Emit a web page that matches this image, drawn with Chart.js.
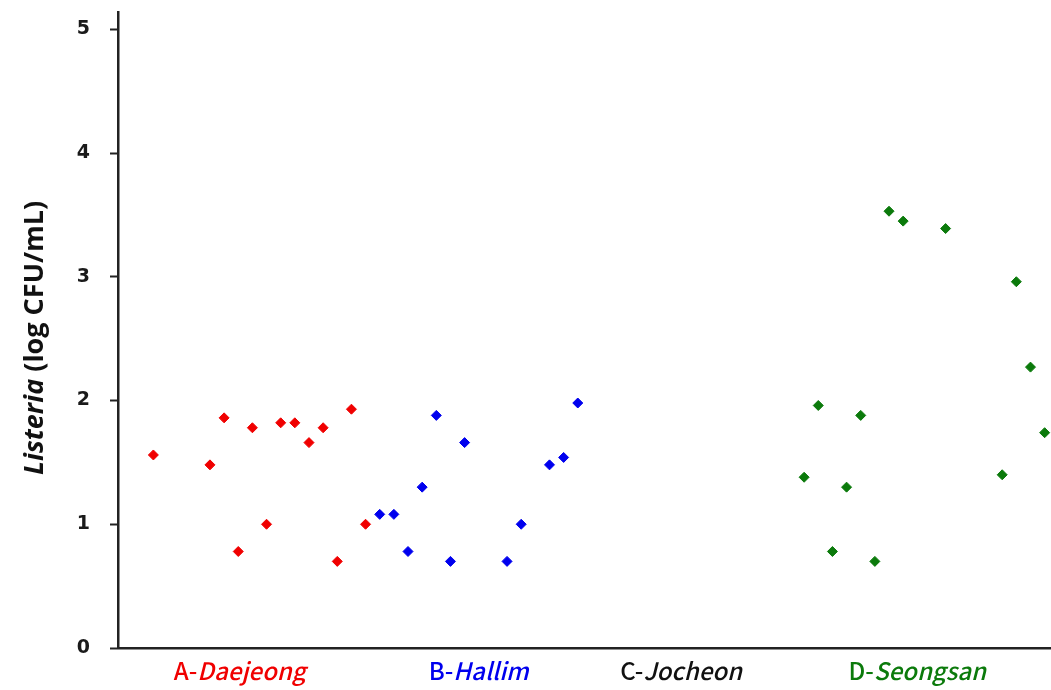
<!DOCTYPE html>
<html>
<head>
<meta charset="utf-8">
<script src="https://cdn.jsdelivr.net/npm/chart.js@4/dist/chart.umd.min.js"></script>
<style>
  html, body { margin: 0; padding: 0; background: #ffffff; overflow: hidden; }
  #wrap { width: 1051px; height: 690px; position: relative; }
</style>
</head>
<body>
<div id="wrap"><canvas id="c" width="1051" height="690"></canvas></div>
<script>
// Sampling sites (prefix is upright, site name is italic)
const sitePrefixes = ['A-', 'B-', 'C-', 'D-'];
const siteNames = ['Daejeong', 'Hallim', 'Jocheon', 'Seongsan'];
const siteLabelColors = ['#f00000', '#0000ee', '#111111', '#0b7a0b'];
// position of each site label along the sample axis
const siteLabelPos = [6.1, 23.0, 37.3, 54.0];

// Sample order along the x axis and Listeria counts (log CFU/mL)
const daejeongSample = [0, 4, 5, 6, 7, 8, 9, 10, 11, 12, 13, 14, 15];
const daejeongLog    = [1.56, 1.48, 1.86, 0.78, 1.78, 1.00, 1.82, 1.82, 1.66, 1.78, 0.70, 1.93, 1.00];

const hallimSample = [16, 17, 18, 19, 20, 21, 22, 25, 26, 28, 29, 30];
const hallimLog    = [1.08, 1.08, 0.78, 1.30, 1.88, 0.70, 1.66, 0.70, 1.00, 1.48, 1.54, 1.98];

// Jocheon: no positive samples
const jocheonSample = [];
const jocheonLog    = [];

const seongsanSample = [46, 47, 48, 49, 50, 51, 52, 53, 56, 60, 61, 62, 63];
const seongsanLog    = [1.38, 1.96, 0.78, 1.30, 1.88, 0.70, 3.53, 3.45, 3.39, 1.40, 2.96, 2.27, 1.74];

const yTickValues = [0, 1, 2, 3, 4, 5];

function toPoints(xs, ys) {
  return xs.map((x, i) => ({ x: x, y: ys[i] }));
}

function seriesStyle(color) {
  return {
    pointStyle: 'rectRot',
    pointRadius: 5,
    pointBorderWidth: 1,
    backgroundColor: color,
    borderColor: color,
    showLine: false,
    clip: false
  };
}

const axisColor = '#222222';

// y-axis title with italic genus name, and mixed-style site labels under the axis
const textPlugin = {
  id: 'mixedText',
  afterDraw(chart) {
    const ctx = chart.ctx;
    const xs = chart.scales.x;
    const area = chart.chartArea;
    ctx.save();

    // axis title
    const f1 = 'italic bold 27px "Open Sans"';
    const f2 = 'bold 27px "Open Sans"';
    const t1 = 'Listeria';
    const t2 = ' (log CFU/mL)';
    ctx.font = f1; const w1 = ctx.measureText(t1).width;
    ctx.font = f2; const w2 = ctx.measureText(t2).width;
    ctx.translate(35, 338);
    ctx.rotate(-Math.PI / 2);
    ctx.textBaseline = 'middle';
    ctx.textAlign = 'left';
    ctx.fillStyle = '#111111';
    const start = -(w1 + w2) / 2;
    ctx.font = f1; ctx.fillText(t1, start, 0);
    ctx.font = f2; ctx.fillText(t2, start + w1, 0);
    ctx.setTransform(1, 0, 0, 1, 0, 0);

    // site labels
    const yLab = area.bottom + 23;
    ctx.textBaseline = 'middle';
    ctx.textAlign = 'left';
    siteNames.forEach((name, i) => {
      const fa = '500 24px "Noto Sans CJK KR"';
      const fb = 'italic 500 24px "Noto Sans CJK KR"';
      ctx.font = fa; const wa = ctx.measureText(sitePrefixes[i]).width;
      ctx.font = fb; const wb = ctx.measureText(name).width;
      const cx = xs.getPixelForValue(siteLabelPos[i]);
      const x0 = cx - (wa + wb) / 2;
      ctx.fillStyle = siteLabelColors[i];
      ctx.font = fa; ctx.fillText(sitePrefixes[i], x0, yLab);
      ctx.font = fb; ctx.fillText(name, x0 + wa, yLab);
    });
    ctx.restore();
  }
};

new Chart(document.getElementById('c'), {
  type: 'scatter',
  data: {
    datasets: [
      Object.assign({ label: 'A-Daejeong', data: toPoints(daejeongSample, daejeongLog) }, seriesStyle('#f00000')),
      Object.assign({ label: 'B-Hallim', data: toPoints(hallimSample, hallimLog) }, seriesStyle('#0000ee')),
      Object.assign({ label: 'C-Jocheon', data: toPoints(jocheonSample, jocheonLog) }, seriesStyle('#111111')),
      Object.assign({ label: 'D-Seongsan', data: toPoints(seongsanSample, seongsanLog) }, seriesStyle('#0b7a0b'))
    ]
  },
  options: {
    responsive: false,
    animation: false,
    layout: { autoPadding: false, padding: { top: 12, left: 0, right: 0, bottom: 0 } },
    plugins: { legend: { display: false }, tooltip: { enabled: false } },
    scales: {
      x: {
        type: 'linear',
        min: -2.5,
        max: 63.45,
        border: { display: true, color: axisColor, width: 2.5 },
        grid: { drawOnChartArea: false, drawTicks: false },
        ticks: { display: false },
        afterFit(s) { s.height = 42; s.paddingLeft = 0; s.paddingRight = 0; }
      },
      y: {
        type: 'linear',
        min: 0,
        max: 5.14,
        afterBuildTicks(s) { s.ticks = yTickValues.map(v => ({ value: v })); },
        border: { display: true, color: axisColor, width: 2.5 },
        grid: { drawOnChartArea: false, drawTicks: true, tickLength: 8, tickColor: axisColor, tickWidth: 2 },
        ticks: {
          padding: 20,
          color: '#1a1a1a',
          font: { family: '"DejaVu Sans"', size: 19, weight: 'bold' },
          callback: v => String(v)
        },
        afterFit(s) { s.width = 118; s.paddingTop = 0; s.paddingBottom = 0; }
      }
    }
  },
  plugins: [textPlugin]
});
</script>
</body>
</html>
